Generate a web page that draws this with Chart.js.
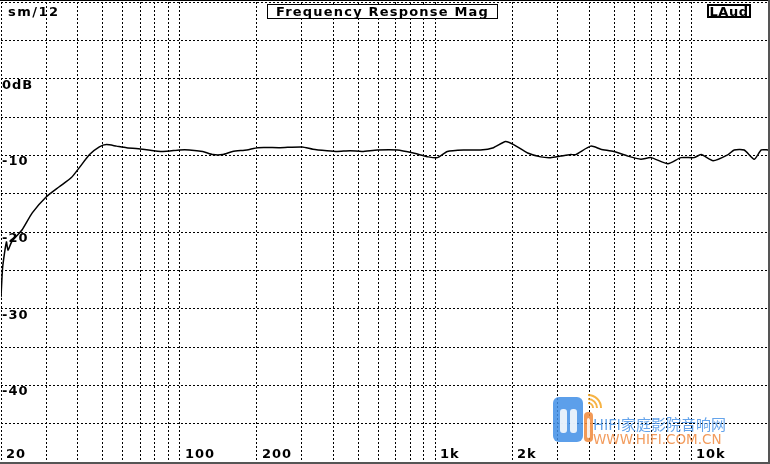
<!DOCTYPE html>
<html>
<head>
<meta charset="utf-8">
<script src="https://cdn.jsdelivr.net/npm/chart.js@4.4.1/dist/chart.umd.min.js"></script>
<style>
  html, body { margin: 0; padding: 0; background: #fff; }
  #wrap { width: 770px; height: 464px; position: relative; }
</style>
</head>
<body>
<div id="wrap"><canvas id="fr"></canvas></div>
<script>
// frequency (Hz) and level (dB)
const freqs = [20, 20.3, 21, 21.3, 22, 24.2, 26.5, 30.1, 33.8, 37.7, 40.5, 44.4, 48.5, 51.7, 56.6, 62, 71.6, 85.8,
  100, 109, 123, 135, 147, 161, 183, 202, 247, 301, 332, 377, 413, 464, 517, 593, 710, 820, 939,
  1018, 1114, 1288, 1501, 1688, 1882, 2023, 2296, 2582, 2825, 3091, 3383, 3540, 4054, 4436, 4988, 5662, 6367, 6966, 8123, 9139,
  10270, 10946, 12200, 13970, 14750, 16140, 17660, 18830, 20000];
const levels = [-28.5, -24.6, -21.3, -22.4, -21.3, -19.7, -17.5, -15.4, -14.1, -12.9, -11.6, -9.9, -8.9, -8.6, -8.8, -9.0, -9.2, -9.5,
  -9.3, -9.3, -9.5, -9.9, -9.9, -9.5, -9.3, -9.0, -9.0, -8.9, -9.2, -9.4, -9.5, -9.4, -9.5, -9.3, -9.3, -9.7, -10.2,
  -10.3, -9.5, -9.3, -9.3, -9.0, -8.2, -8.6, -9.7, -10.2, -10.3, -10.1, -9.9, -9.9, -8.8, -9.2, -9.5, -10.1, -10.5, -10.3, -11.1, -10.3,
  -10.3, -9.9, -10.7, -9.9, -9.3, -9.3, -10.5, -9.3, -9.3];

// grid lines on the log frequency axis
const xGridFreqs = [20, 30, 40, 50, 60, 70, 80, 90, 100, 200, 300, 400, 500, 600, 700, 800, 900,
  1000, 2000, 3000, 4000, 5000, 6000, 7000, 8000, 9000, 10000, 20000];
const xLabelFreqs = [20, 100, 200, 1000, 2000, 10000];
const xLabelTexts = ['20', '100', '200', '1k', '2k', '10k'];
const yLabelValues = [0, -10, -20, -30, -40];
const yLabelTexts = ['0dB', '-10', '-20', '-30', '-40'];

const titleText = 'Frequency Response Mag';
const channelText = 'LAud';
const smoothText = 'sm/12';

const FONT = 'bold 13px "DejaVu Sans", sans-serif';

const setText = (ctx, spacing) => {
  ctx.font = FONT;
  ctx.fillStyle = '#000';
  ctx.textAlign = 'left';
  ctx.textBaseline = 'alphabetic';
  if ('letterSpacing' in ctx) ctx.letterSpacing = spacing + 'px';
};

const labelsPlugin = {
  id: 'analyzerLabels',
  afterDraw(chart) {
    const ctx = chart.ctx;
    const xs = chart.scales.x;
    const ys = chart.scales.y;
    ctx.save();

    // frame
    ctx.strokeStyle = '#000';
    ctx.lineWidth = 1;
    ctx.beginPath();
    ctx.moveTo(0, 0.5);
    ctx.lineTo(770, 0.5);
    ctx.stroke();
    ctx.strokeStyle = '#555';
    ctx.lineWidth = 2;
    ctx.beginPath();
    ctx.moveTo(0, 463);
    ctx.lineTo(770, 463);
    ctx.moveTo(769, 0);
    ctx.lineTo(769, 464);
    ctx.stroke();

    setText(ctx, 1);
    yLabelValues.forEach((v, i) => {
      ctx.fillText(yLabelTexts[i], 2, Math.round(ys.getPixelForValue(v)) + 9.5);
    });
    xLabelFreqs.forEach((f, i) => {
      ctx.fillText(xLabelTexts[i], Math.round(xs.getPixelForValue(f)) + 5, 457.5);
    });
    setText(ctx, 1.5);
    ctx.fillText(smoothText, 8, 15.5);

    // title box
    ctx.fillStyle = '#fff';
    ctx.fillRect(267, 4, 231, 15);
    ctx.strokeStyle = '#000';
    ctx.lineWidth = 1;
    ctx.strokeRect(267.5, 4.5, 230, 14);
    setText(ctx, 1.2);
    const tw = ctx.measureText(titleText).width;
    ctx.fillText(titleText, 382.5 - tw / 2, 16);

    // channel box
    ctx.fillStyle = '#fff';
    ctx.fillRect(707, 5, 43, 12);
    ctx.strokeStyle = '#000';
    ctx.lineWidth = 2;
    ctx.strokeRect(708, 5, 42, 12);
    setText(ctx, 0.5);
    const cw = ctx.measureText(channelText).width;
    ctx.fillText(channelText, 729 - cw / 2, 15.5);

    // watermark
    if ('letterSpacing' in ctx) ctx.letterSpacing = '0px';
    ctx.globalAlpha = 0.85;
    ctx.fillStyle = '#3f8ee6';
    ctx.beginPath();
    ctx.roundRect(553, 397, 30, 45, 6);
    ctx.fill();
    ctx.fillStyle = '#fff';
    ctx.beginPath();
    ctx.roundRect(560, 409, 7, 24, 3);
    ctx.roundRect(570, 409, 7, 24, 3);
    ctx.fill();
    ctx.fillStyle = '#f0883a';
    ctx.beginPath();
    ctx.roundRect(584, 412, 9, 30, 4);
    ctx.fill();
    ctx.fillStyle = '#fff';
    ctx.beginPath();
    ctx.roundRect(587, 418, 3, 20, 1.5);
    ctx.fill();
    ctx.strokeStyle = '#f5a623';
    ctx.lineWidth = 2;
    [5, 9, 13].forEach(r => {
      ctx.beginPath();
      ctx.arc(588, 408, r, -Math.PI / 2, 0);
      ctx.stroke();
    });
    ctx.fillStyle = '#4a94e8';
    ctx.font = '15px "Noto Sans CJK SC", "DejaVu Sans", sans-serif';
    ctx.fillText('HIFI家庭影院音响网', 593, 430);
    ctx.fillStyle = '#f08a40';
    ctx.font = '13.5px "DejaVu Sans", sans-serif';
    ctx.fillText('WWW.HIFI.COM.CN', 593, 444);
    ctx.restore();
  },
};

new Chart(document.getElementById('fr'), {
  type: 'line',
  data: {
    datasets: [
      {
        data: freqs.map((f, i) => ({ x: f, y: levels[i] })),
        borderColor: '#000',
        borderWidth: 1.5,
        pointRadius: 0,
        tension: 0.2,
        fill: false,
      },
    ],
  },
  options: {
    responsive: true,
    maintainAspectRatio: false,
    animation: false,
    layout: { padding: { left: 1, right: 2, top: 2, bottom: 2 } },
    plugins: {
      legend: { display: false },
      title: { display: false },
      tooltip: { enabled: false },
    },
    scales: {
      x: {
        type: 'logarithmic',
        min: 20,
        max: 20000,
        afterBuildTicks: scale => {
          scale.ticks = xGridFreqs.map(v => ({ value: v }));
        },
        ticks: { display: false, autoSkip: false },
        grid: { color: '#000', lineWidth: 1, drawTicks: false },
        border: { display: false, dash: [2, 2] },
      },
      y: {
        type: 'linear',
        min: -50,
        max: 10,
        ticks: { display: false, stepSize: 5 },
        grid: { color: '#000', lineWidth: 1, drawTicks: false },
        border: { display: false, dash: [2, 2] },
      },
    },
  },
  plugins: [labelsPlugin],
});
</script>
</body>
</html>
